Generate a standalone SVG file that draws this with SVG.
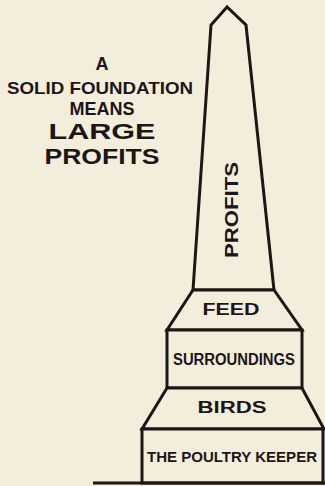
<svg xmlns="http://www.w3.org/2000/svg" width="325" height="486" viewBox="0 0 325 486">
<style>
.bg{fill:#f3eedc}
.sh{fill:#f3eedc;stroke:#1d1516;stroke-width:3;stroke-linejoin:miter}
.t{font-family:"Liberation Sans",Arial,sans-serif;font-weight:bold;fill:#1d1516;text-anchor:middle}
</style>
<rect class="bg" x="0" y="0" width="325" height="486"/>
<g id="title">
<text class="t" x="102" y="70" font-size="18">A</text>
<text class="t" x="100" y="94" font-size="17" textLength="186" lengthAdjust="spacingAndGlyphs">SOLID FOUNDATION</text>
<text class="t" x="102" y="115" font-size="18" textLength="65" lengthAdjust="spacingAndGlyphs">MEANS</text>
<text class="t" x="102" y="139" font-size="22" textLength="107" lengthAdjust="spacingAndGlyphs">LARGE</text>
<text class="t" x="102" y="164" font-size="22" textLength="115" lengthAdjust="spacingAndGlyphs">PROFITS</text>
</g>
<g id="profits">
<polygon class="sh" points="227,7 211,25 193,290 274,290 246,25"/>
<text class="t" transform="translate(238,210) rotate(-90)" font-size="19" textLength="96" lengthAdjust="spacingAndGlyphs">PROFITS</text>
</g>
<g id="feed">
<polygon class="sh" points="193,290 274,290 302,330 167,330"/>
<text class="t" x="231" y="315" font-size="16" textLength="57" lengthAdjust="spacingAndGlyphs">FEED</text>
</g>
<g id="surroundings">
<rect class="sh" x="167" y="330" width="135" height="58"/>
<text class="t" x="234" y="365" font-size="16" textLength="122" lengthAdjust="spacingAndGlyphs">SURROUNDINGS</text>
</g>
<g id="birds">
<polygon class="sh" points="167,388 302,388 324,429 142,429"/>
<text class="t" x="232" y="413" font-size="16" textLength="69" lengthAdjust="spacingAndGlyphs">BIRDS</text>
</g>
<g id="keeper">
<rect class="sh" x="142" y="429" width="181" height="54"/>
<text class="t" x="232" y="462" font-size="15" textLength="170" lengthAdjust="spacingAndGlyphs">THE POULTRY KEEPER</text>
</g>
<g id="connectors">
<line x1="93" y1="483" x2="325" y2="483" stroke="#1d1516" stroke-width="3"/>
</g>
</svg>
